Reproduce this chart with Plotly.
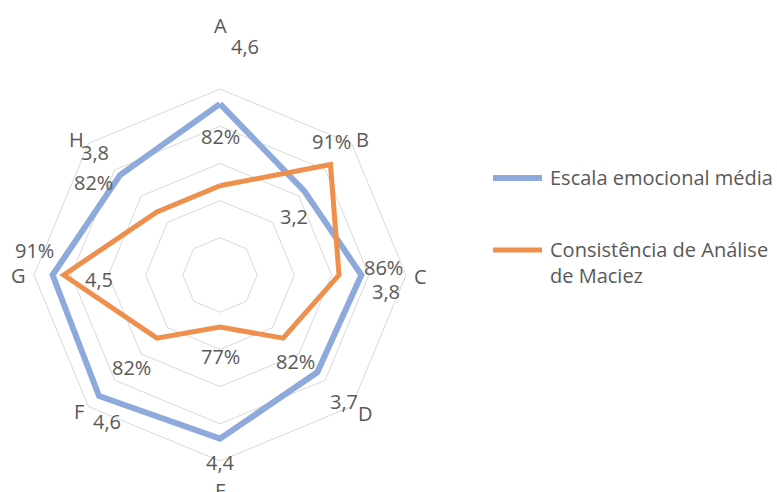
import math
import plotly.graph_objects as go

# ---- data -------------------------------------------------------------
categories = ["A", "B", "C", "D", "E", "F", "G", "H"]
escala_media = [4.6, 3.2, 3.8, 3.7, 4.4, 4.6, 4.5, 3.8]
consistencia = [0.82, 0.91, 0.86, 0.82, 0.77, 0.82, 0.91, 0.82]

series_names = ["Escala emocional média", "Consistência de Análise<br>de Maciez"]

# ---- label placement (radius in grid units of the 0-5 scale, angle in degrees clockwise from top)
escala_lbl_r = [6.17, 2.53, 4.49, 4.77, 5.05, 4.98, 3.25, 4.71]
escala_lbl_t = [6.3, 51.9, 95.8, 135.7, 180.0, 217.5, 268.1, 314.5]
consist_lbl_r = [3.71, 4.69, 4.39, 3.10, 2.20, 3.44, 5.02, 4.23]
consist_lbl_t = [0.0, 39.9, 87.5, 138.9, 180.0, 224.0, 277.4, 306.2]
cat_lbl_r = [6.72, 5.29, 5.38, 5.40, 5.78, 5.27, 5.43, 5.31]
cat_lbl_t = [0.0, 46.6, 90.3, 133.4, 180.0, 226.0, 270.0, 313.2]

BLUE = "#8EA9DB"
ORANGE = "#EE8F4E"
GRID = "#D9D9D9"
TEXT = "#595959"
FONT = "Open Sans"
FSIZE = 20

W, H = 777, 492
cx, cy, R = 220, 275, 186  # centre and outer radius in px
RMAX = 5.0
dom_x = [(cx - R) / W, (cx + R) / W]
dom_y = [(H - cy - R) / H, (H - cy + R) / H]


def closed(v):
    return list(v) + [v[0]]


def fmt_dec(v):
    return f"{v:.1f}".replace(".", ",")


def fmt_pct(v):
    return f"{round(v * 100)}%"


def to_paper(r, t):
    """Polar label position (grid units, degrees clockwise from top) -> paper coords."""
    px = cx + r * R / RMAX * math.sin(math.radians(t))
    py = cy - r * R / RMAX * math.cos(math.radians(t))
    return px / W, 1 - py / H


fig = go.Figure()

fig.add_trace(go.Scatterpolar(
    r=closed(escala_media), theta=closed(categories), subplot="polar",
    mode="lines", name=series_names[0],
    line=dict(color=BLUE, width=6), hoverinfo="skip",
))
fig.add_trace(go.Scatterpolar(
    r=closed(consistencia), theta=closed(categories), subplot="polar2",
    mode="lines", name=series_names[1],
    line=dict(color=ORANGE, width=5), hoverinfo="skip",
))

label_font = dict(family=FONT, size=FSIZE, color=TEXT)
annotations = []
for rr, tt, txt in [
    (escala_lbl_r, escala_lbl_t, [fmt_dec(v) for v in escala_media]),
    (consist_lbl_r, consist_lbl_t, [fmt_pct(v) for v in consistencia]),
    (cat_lbl_r, cat_lbl_t, categories),
]:
    for r, t, s in zip(rr, tt, txt):
        x, y = to_paper(r, t)
        annotations.append(dict(
            x=x, y=y, xref="paper", yref="paper", text=s, showarrow=False,
            xanchor="center", yanchor="middle", font=label_font,
        ))

# legend: coloured line keys plus series names
legend_rows = [(178, BLUE, 6, series_names[0]), (250, ORANGE, 5, series_names[1])]
shapes = []
for y_px, color, width, name in legend_rows:
    shapes.append(dict(
        type="line", xref="paper", yref="paper",
        x0=493 / W, x1=542 / W, y0=1 - y_px / H, y1=1 - y_px / H,
        line=dict(color=color, width=width),
    ))
    annotations.append(dict(
        x=548 / W, y=1 - (y_px - 16) / H, xref="paper", yref="paper",
        text=name, showarrow=False, xanchor="left", yanchor="top", align="left",
        font=dict(family=FONT, size=FSIZE, color=TEXT),
    ))

hidden_radial = dict(showticklabels=False, showline=False, showgrid=False, ticks="")
hidden_angular = dict(showticklabels=False, showline=False, showgrid=False, ticks="",
                      direction="clockwise", rotation=90)

fig.update_layout(
    width=W, height=H,
    margin=dict(l=0, r=0, t=0, b=0),
    paper_bgcolor="white",
    plot_bgcolor="white",
    font=dict(family=FONT, color=TEXT),
    polar=dict(
        domain=dict(x=dom_x, y=dom_y),
        bgcolor="white",
        gridshape="linear",
        radialaxis=dict(range=[0, RMAX], dtick=1, showticklabels=False, showline=False,
                        ticks="", gridcolor=GRID, gridwidth=1),
        angularaxis=dict(type="category", categoryarray=categories, direction="clockwise",
                         rotation=90, showgrid=False, showticklabels=False, ticks="",
                         showline=True, linecolor=GRID, linewidth=1),
    ),
    polar2=dict(
        domain=dict(x=dom_x, y=dom_y),
        bgcolor="rgba(0,0,0,0)",
        gridshape="linear",
        radialaxis=dict(range=[0.70, 0.95], **hidden_radial),
        angularaxis=dict(type="category", categoryarray=categories, **hidden_angular),
    ),
    showlegend=False,
    annotations=annotations,
    shapes=shapes,
    dragmode=False,
)

fig.write_html("out.html")
